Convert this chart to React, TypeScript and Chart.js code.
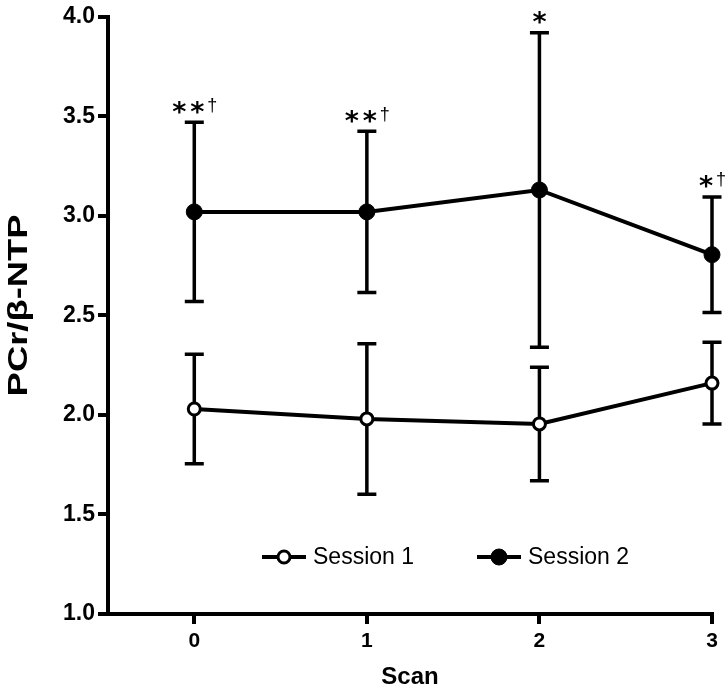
import React, { useEffect, useRef } from "react";
import { Chart, registerables } from "chart.js";

Chart.register(...registerables);

const scans = [0, 1, 2, 3];
const session1Mean = [2.03, 1.98, 1.955, 2.16];
const session1Err = [0.275, 0.378, 0.285, 0.205];
const session2Mean = [3.02, 3.02, 3.13, 2.805];
const session2Err = [0.45, 0.405, 0.79, 0.29];
const seriesLabels = ["Session 1", "Session 2"];
const starCounts = [2, 2, 1, 1];
const daggers = [true, true, false, true];
const yTicks = [1.0, 1.5, 2.0, 2.5, 3.0, 3.5, 4.0];
const xTitle = "Scan";
const yTitle = "PCr/β-NTP";

const errs = [session1Err, session2Err];
const FONT = "'Liberation Sans', Arial, Helvetica, sans-serif";

const errorBarPlugin = {
  id: "errorBars",
  beforeDatasetsDraw(chart: any) {
    const ctx = chart.ctx;
    const xs = chart.scales.x;
    const ys = chart.scales.y;
    ctx.save();
    ctx.strokeStyle = "#000";
    ctx.lineWidth = 3.5;
    chart.data.datasets.forEach((ds: any, i: number) => {
      ds.data.forEach((p: any, j: number) => {
        const x = xs.getPixelForValue(p.x);
        const yTop = ys.getPixelForValue(p.y + errs[i][j]);
        const yBot = ys.getPixelForValue(p.y - errs[i][j]);
        ctx.beginPath();
        ctx.moveTo(x, yTop);
        ctx.lineTo(x, yBot);
        ctx.moveTo(x - 9.5, yTop);
        ctx.lineTo(x + 9.5, yTop);
        ctx.moveTo(x - 9.5, yBot);
        ctx.lineTo(x + 9.5, yBot);
        ctx.stroke();
      });
    });
    ctx.restore();
  },
};

function drawGlyphCentered(ctx: any, text: string, cx: number, cy: number) {
  const m = ctx.measureText(text);
  const asc = m.actualBoundingBoxAscent;
  const desc = m.actualBoundingBoxDescent;
  const l = m.actualBoundingBoxLeft;
  const r = m.actualBoundingBoxRight;
  ctx.textAlign = "left";
  ctx.textBaseline = "alphabetic";
  ctx.fillText(text, cx - (r - l) / 2, cy + (asc - desc) / 2);
}

const annotationPlugin = {
  id: "annotations",
  afterDatasetsDraw(chart: any) {
    const ctx = chart.ctx;
    const xs = chart.scales.x;
    const ys = chart.scales.y;
    ctx.save();
    ctx.fillStyle = "#000";
    const starW = 13;
    const gap = 5;
    const dagW = 7;
    scans.forEach((s, j) => {
      const x = xs.getPixelForValue(s);
      const yCap = ys.getPixelForValue(session2Mean[j] + session2Err[j]);
      const n = starCounts[j];
      const total = n * starW + (n - 1) * gap + (daggers[j] ? gap + dagW : 0);
      let cx = x - total / 2 + starW / 2;
      ctx.font = `bold 27px 'DejaVu Sans', ${FONT}`;
      for (let k = 0; k < n; k++) {
        drawGlyphCentered(ctx, "*", cx, yCap - 15);
        cx += starW + gap;
      }
      if (daggers[j]) {
        ctx.font = `18px ${FONT}`;
        drawGlyphCentered(ctx, "†", cx - starW / 2 + dagW / 2, yCap - 17);
      }
    });
    ctx.restore();
  },
};

const legendPlugin = {
  id: "customLegend",
  afterDraw(chart: any) {
    const ctx = chart.ctx;
    const area = chart.chartArea;
    const starts = [area.left + 154, area.left + 369];
    const y = area.bottom - 57;
    ctx.save();
    chart.data.datasets.forEach((ds: any, i: number) => {
      const x0 = starts[i];
      ctx.strokeStyle = "#000";
      ctx.lineWidth = 4;
      ctx.beginPath();
      ctx.moveTo(x0, y);
      ctx.lineTo(x0 + 44, y);
      ctx.stroke();
      ctx.beginPath();
      ctx.arc(x0 + 22, y, ds.pointRadius, 0, Math.PI * 2);
      ctx.fillStyle = ds.pointBackgroundColor;
      ctx.fill();
      ctx.lineWidth = ds.pointBorderWidth;
      ctx.stroke();
      ctx.fillStyle = "#000";
      ctx.font = `23px ${FONT}`;
      ctx.textAlign = "left";
      ctx.textBaseline = "middle";
      ctx.fillText(seriesLabels[i], x0 + 51, y + 1);
    });
    // y-axis title (rotated)
    const cy = (area.top + area.bottom) / 2 - 10;
    ctx.translate(20, cy);
    ctx.rotate(-Math.PI / 2);
    ctx.font = `bold 27px ${FONT}`;
    const w = ctx.measureText(yTitle).width;
    ctx.scale(182 / w, 1);
    ctx.fillStyle = "#000";
    ctx.textAlign = "center";
    ctx.textBaseline = "middle";
    ctx.fillText(yTitle, 0, 0);
    ctx.restore();
  },
};

export default function App() {
  const ref = useRef<HTMLCanvasElement | null>(null);
  useEffect(() => {
    if (!ref.current) return;
    const chart = new Chart(ref.current, {
      type: "line",
      data: {
        datasets: [
          {
            label: seriesLabels[0],
            data: scans.map((s, i) => ({ x: s, y: session1Mean[i] })),
            borderColor: "#000",
            borderWidth: 4,
            pointRadius: 6,
            pointBorderWidth: 3,
            pointBackgroundColor: "#fff",
            pointBorderColor: "#000",
            clip: false,
          } as any,
          {
            label: seriesLabels[1],
            data: scans.map((s, i) => ({ x: s, y: session2Mean[i] })),
            borderColor: "#000",
            borderWidth: 4,
            pointRadius: 8,
            pointBorderWidth: 1,
            pointBackgroundColor: "#000",
            pointBorderColor: "#000",
            clip: false,
          } as any,
        ],
      },
      options: {
        responsive: false,
        animation: false,
        devicePixelRatio: 1,
        layout: { padding: { left: 0, top: 12, right: 16, bottom: 0 } },
        plugins: {
          legend: { display: false },
          tooltip: { enabled: false },
        },
        scales: {
          x: {
            type: "linear",
            min: -0.5,
            max: 3,
            afterBuildTicks: (scale: any) => {
              scale.ticks = scans.map((v) => ({ value: v }));
            },
            afterFit: (scale: any) => {
              scale.height = 78;
            },
            ticks: {
              color: "#000",
              font: { family: FONT, size: 21, weight: "bold" },
              padding: 5,
              maxRotation: 0,
              callback: (v: any) => String(v),
            },
            grid: {
              drawOnChartArea: false,
              drawTicks: true,
              tickLength: 10,
              lineWidth: 4,
              color: "#000",
            },
            border: { display: true, width: 4, color: "#000" },
            title: {
              display: true,
              text: xTitle,
              color: "#000",
              font: { family: FONT, size: 24, weight: "bold" },
              padding: { top: 0, bottom: 0 },
            },
          },
          y: {
            type: "linear",
            min: 1,
            max: 4,
            afterBuildTicks: (scale: any) => {
              scale.ticks = yTicks.map((v) => ({ value: v }));
            },
            afterFit: (scale: any) => {
              scale.width = 108;
            },
            ticks: {
              color: "#000",
              font: { family: FONT, size: 23, weight: "bold" },
              padding: 3,
              callback: (v: any) => Number(v).toFixed(1),
            },
            grid: {
              drawOnChartArea: false,
              drawTicks: true,
              tickLength: 10,
              lineWidth: 4,
              color: "#000",
            },
            border: { display: true, width: 4, color: "#000" },
            title: { display: false },
          },
        },
      },
      plugins: [errorBarPlugin, annotationPlugin, legendPlugin],
    });
    return () => chart.destroy();
  }, []);
  return (
    <div style={{ position: "absolute", left: 0, top: 0, width: 728, height: 692, background: "#fff" }}>
      <canvas ref={ref} width={728} height={692} style={{ display: "block" }} />
    </div>
  );
}
